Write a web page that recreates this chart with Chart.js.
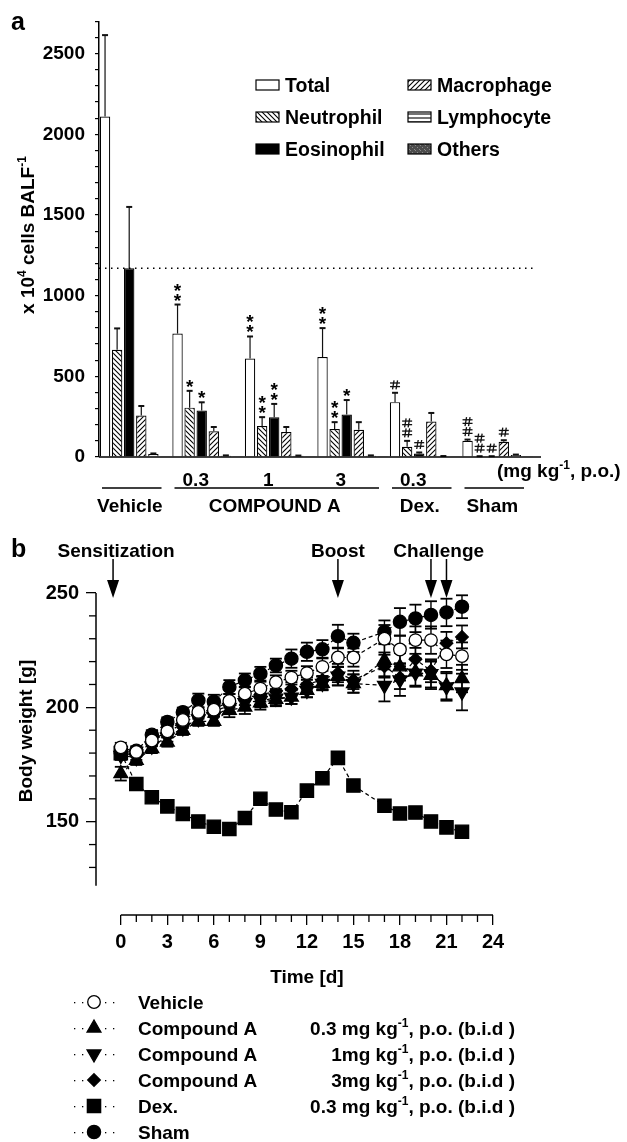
<!DOCTYPE html>
<html>
<head>
<meta charset="utf-8">
<script src="https://cdn.jsdelivr.net/npm/chart.js@4.4.1/dist/chart.umd.min.js"></script>
<style>
html, body { margin: 0; padding: 0; background: #fff; }
#wrap { position: relative; width: 627px; height: 1142px; overflow: hidden; }
canvas { position: absolute; left: 0; }
#cA { top: 0; width: 627px; height: 520px; }
#cB { top: 520px; width: 627px; height: 622px; }
</style>
</head>
<body>
<div id="wrap">
  <canvas id="cA" width="627" height="520"></canvas>
  <canvas id="cB" width="627" height="622"></canvas>
</div>
<script>
// ---------- panel a : BALF cells ----------
var groups = ["Vehicle", "COMPOUND A 0.3", "COMPOUND A 1", "COMPOUND A 3", "Dex. 0.3", "Sham"];
var doseLabels = ["", "0.3", "1", "3", "0.3", ""];
var headNames = ["Vehicle", "COMPOUND A", "Dex.", "Sham"];
var headSpans = [[0, 0], [1, 3], [4, 4], [5, 5]];
var cellTypes = ["Total", "Neutrophil", "Eosinophil", "Macrophage", "Lymphocyte", "Others"];

var total = [2110, 765, 610, 620, 340, 100];
var totalErr = [505, 180, 137, 179, 58, 8];
var neutro = [665, 306, 192, 173, 63, 3];
var neutroErr = [132, 104, 55, 43, 37, 2];
var eosino = [1170, 288, 247, 263, 22, 3];
var eosinoErr = [380, 51, 82, 90, 6, 2];
var macro = [257, 159, 155, 169, 220, 94];
var macroErr = [59, 27, 31, 47, 53, 10];
var lympho = [18, 8, 7, 8, 5, 12];
var lymphoErr = [4, 2, 2, 2, 1, 3];
var others = [1, 1, 1, 1, 1, 1];
var othersErr = [0, 0, 0, 0, 0, 0];

var sigTotal = ["", "**", "**", "**", "#", "##"];
var sigNeutro = ["", "*", "**", "**", "##", "##"];
var sigEosino = ["", "*", "**", "*", "#", "#"];
var sigMacro = ["", "", "", "", "", "#"];
var sigNone = ["", "", "", "", "", ""];

var yTicksA = [0, 500, 1000, 1500, 2000, 2500];

// ---------- panel b : body weight ----------
var days = [0, 1, 2, 3, 4, 5, 6, 7, 8, 9, 10, 11, 12, 13, 14, 15, 17, 18, 19, 20, 21, 22];
var vehicle = [182.5, 180.5, 185.5, 189.5, 194.5, 198, 199, 202.8, 206, 208.2, 211, 213, 215, 217.7, 221.8, 221.8, 230, 225.3, 229.4, 229.4, 223.2, 222.4];
var vehicleErr = [2, 2, 2, 2, 2, 2, 2, 3, 3, 3, 3, 3, 3, 4, 4, 4, 6, 6, 6, 6, 6, 6];
var compA03 = [171, 176.8, 182, 184.8, 189.9, 193.9, 193.9, 198.7, 200.1, 202, 203.5, 204.5, 207.4, 210.5, 213.6, 210.4, 220.6, 217.7, 215.5, 214, 209.5, 212.6];
var compA03Err = [3, 2, 2, 2, 2, 2, 2, 3, 3, 3, 3, 3, 3, 3, 4, 4, 7, 6, 6, 6, 6, 6];
var compA1 = [179, 178, 183, 187, 191, 195, 196, 200, 202, 203, 204, 204.5, 207.4, 210.5, 213.6, 210.4, 209.6, 212, 215, 214.7, 208.9, 206.7];
var compA1Err = [2, 2, 2, 2, 2, 2, 3, 3, 3, 3, 3, 3, 3, 3, 4, 4, 7, 7, 6, 6, 6, 8];
var compA3 = [180, 179, 185, 189, 193, 197, 198, 201, 204, 205.5, 207, 208, 210, 212, 215, 212, 218, 213, 221, 216, 228, 230.8];
var compA3Err = [2, 2, 2, 2, 2, 2, 2, 3, 3, 3, 3, 3, 3, 4, 4, 4, 5, 5, 5, 5, 5, 5];
var dex = [180, 166.5, 160.7, 156.7, 153.4, 150.1, 147.8, 146.8, 151.6, 160, 155.3, 154.1, 163.6, 169, 177.9, 165.8, 157, 153.6, 154, 150.1, 147.5, 145.6];
var dexErr = [2, 1, 1, 1, 1, 1, 1, 1, 1, 1, 1, 1, 1, 1, 1, 1, 1, 1, 1, 1, 1, 1];
var sham = [180, 181, 188, 193.6, 197.9, 203, 202.5, 208.9, 211.8, 214.7, 218.3, 221.3, 224.3, 225.4, 231.1, 228.2, 233, 237.4, 238.9, 240.4, 241.5, 244];
var shamErr = [2, 2, 2, 2, 2, 3, 3, 3, 3, 3, 3, 4, 4, 4, 5, 4, 5, 6, 6, 6, 6, 5];

var seriesNames = ["Vehicle", "Compound A", "Compound A", "Compound A", "Dex.", "Sham"];
var seriesDoses = [null, ["0.3 mg kg", "^-1", ", p.o. (b.i.d )"], ["1mg kg", "^-1", ", p.o. (b.i.d )"],
                   ["3mg kg", "^-1", ", p.o. (b.i.d )"], ["0.3 mg kg", "^-1", ", p.o. (b.i.d )"], null];

var xTicksB = [0, 3, 6, 9, 12, 15, 18, 21, 24];
var yTicksB = [150, 200, 250];
var eventNames = ["Sensitization", "Boost", "Challenge"];
var eventDays = [[-0.5], [14], [20, 21]];

// ---------- helpers ----------
var FONT = '"Liberation Sans", Arial, Helvetica, sans-serif';
function font(sz) { return "bold " + sz + "px " + FONT; }

Chart.defaults.font.family = FONT;
Chart.defaults.font.size = 19;
Chart.defaults.font.weight = "bold";
Chart.defaults.color = "#000";

// text with ^superscript runs
function drawRuns(ctx, runs, x, y, sz, align) {
    var supSz = Math.round(sz * 0.62);
    var w = 0, i, r, sup, t;
    for (i = 0; i < runs.length; i++) {
        sup = runs[i].charAt(0) === "^";
        ctx.font = font(sup ? supSz : sz);
        w += ctx.measureText(sup ? runs[i].slice(1) : runs[i]).width;
    }
    var cx = align === "center" ? x - w / 2 : (align === "right" ? x - w : x);
    ctx.textAlign = "left";
    ctx.textBaseline = "alphabetic";
    for (i = 0; i < runs.length; i++) {
        r = runs[i];
        sup = r.charAt(0) === "^";
        t = sup ? r.slice(1) : r;
        ctx.font = font(sup ? supSz : sz);
        ctx.fillText(t, cx, sup ? y - sz * 0.4 : y);
        cx += ctx.measureText(t).width;
    }
}

function line(ctx, x1, y1, x2, y2) {
    ctx.beginPath();
    ctx.moveTo(x1, y1);
    ctx.lineTo(x2, y2);
    ctx.stroke();
}

function drawHash(ctx, x, cy) {
    ctx.lineWidth = 1.3;
    line(ctx, x - 5, cy - 1.8, x + 5, cy - 1.8);
    line(ctx, x - 5, cy + 1.8, x + 5, cy + 1.8);
    line(ctx, x - 1, cy - 4.5, x - 2.5, cy + 4.5);
    line(ctx, x + 2.5, cy - 4.5, x + 1, cy + 4.5);
}

function drawStar(ctx, x, cy) {
    ctx.font = font(19);
    ctx.textAlign = "center";
    ctx.textBaseline = "alphabetic";
    ctx.fillText("*", x, cy + 10);
}

var ctxA = document.getElementById("cA").getContext("2d");

function makePattern(kind) {
    var c = document.createElement("canvas");
    var s = kind === "horiz" ? 4 : 5;
    c.width = s;
    c.height = s;
    var g = c.getContext("2d");
    g.fillStyle = kind === "others" ? "#4d4d4d" : "#fff";
    g.fillRect(0, 0, s, s);
    g.strokeStyle = "#000";
    g.lineWidth = 1.1;
    if (kind === "back") {
        line(g, 0, 0, s, s); line(g, -1, s - 1, 1, s + 1); line(g, s - 1, -1, s + 1, 1);
    } else if (kind === "fwd") {
        line(g, 0, s, s, 0); line(g, -1, 1, 1, -1); line(g, s - 1, s + 1, s + 1, s - 1);
    } else if (kind === "horiz") {
        line(g, 0, 2, s, 2);
    } else if (kind === "others") {
        g.fillStyle = "#8a8a8a";
        g.fillRect(0, 0, 1, 1);
        g.fillRect(2, 2, 1, 1);
        g.fillRect(4, 4, 1, 1);
    }
    return ctxA.createPattern(c, "repeat");
}

var fills = ["#fff", makePattern("back"), "#000", makePattern("fwd"), makePattern("horiz"), makePattern("others")];
var valuesA = [total, neutro, eosino, macro, lympho, others];
var errA = [totalErr, neutroErr, eosinoErr, macroErr, lymphoErr, othersErr];
var sigA = [sigTotal, sigNeutro, sigEosino, sigMacro, sigNone, sigNone];

var panelA = {
    id: "panelA",
    afterDatasetsDraw: function (chart) {
        var ctx = chart.ctx, ys = chart.scales.y;
        ctx.save();
        ctx.strokeStyle = "#111";
        ctx.fillStyle = "#000";
        chart.data.datasets.forEach(function (ds, di) {
            var meta = chart.getDatasetMeta(di);
            meta.data.forEach(function (bar, i) {
                var e = errA[di][i];
                var top = ys.getPixelForValue(ds.data[i] + e);
                if (e > 0) {
                    ctx.lineWidth = 1.2;
                    line(ctx, bar.x, bar.y, bar.x, top);
                    ctx.lineWidth = 2;
                    line(ctx, bar.x - 3, top, bar.x + 3, top);
                }
                var s = sigA[di][i];
                for (var k = 0; k < s.length; k++) {
                    var cy = top - 8 - k * 10;
                    if (s.charAt(k) === "#") { drawHash(ctx, bar.x, cy); } else { drawStar(ctx, bar.x, cy); }
                }
            });
        });
        ctx.restore();
    },
    afterDraw: function (chart) {
        var ctx = chart.ctx, ys = chart.scales.y, area = chart.chartArea;
        var catW = (area.right - area.left) / groups.length;
        ctx.save();
        ctx.strokeStyle = "#000";
        ctx.fillStyle = "#000";

        // baseline
        ctx.lineWidth = 1.5;
        line(ctx, area.left, ys.getPixelForValue(0), 541, ys.getPixelForValue(0));

        // reference dotted line at vehicle eosinophil level
        ctx.lineWidth = 1.3;
        ctx.setLineDash([1.5, 4.5]);
        line(ctx, area.left, ys.getPixelForValue(eosino[0]), 537, ys.getPixelForValue(eosino[0]));
        ctx.setLineDash([]);

        // legend
        cellTypes.forEach(function (name, i) {
            var col = i < 3 ? 0 : 1;
            var bx = col === 0 ? 256 : 408;
            var cy = [85, 117, 149][i % 3];
            ctx.fillStyle = fills[i];
            ctx.fillRect(bx, cy - 5, 23, 10);
            ctx.lineWidth = 1.2;
            ctx.strokeRect(bx, cy - 5, 23, 10);
            ctx.fillStyle = "#000";
            ctx.font = font(19.5);
            ctx.textAlign = "left";
            ctx.textBaseline = "alphabetic";
            ctx.fillText(name, bx + 29, cy + 7);
        });

        // group headers under the axis
        ctx.lineWidth = 1.5;
        headNames.forEach(function (name, h) {
            var x1 = area.left + headSpans[h][0] * catW + 3;
            var x2 = area.left + (headSpans[h][1] + 1) * catW - 10;
            line(ctx, x1, 488, x2, 488);
            ctx.font = font(19);
            ctx.textAlign = "center";
            ctx.textBaseline = "alphabetic";
            ctx.fillText(name, (x1 + x2) / 2 - 2, 512);
        });

        // unit text
        drawRuns(ctx, ["(mg kg", "^-1", ", p.o.)"], 497, 477, 19, "left");

        // y title
        ctx.save();
        ctx.translate(34, 235);
        ctx.rotate(-Math.PI / 2);
        drawRuns(ctx, ["x 10", "^4", " cells BALF", "^-1"], 0, 0, 19, "center");
        ctx.restore();

        // panel letter
        ctx.font = font(25);
        ctx.textAlign = "left";
        ctx.fillText("a", 11, 30);
        ctx.restore();
    }
};

new Chart(ctxA, {
    type: "bar",
    data: {
        labels: groups,
        datasets: cellTypes.map(function (name, i) {
            return {
                label: name,
                data: valuesA[i],
                backgroundColor: fills[i],
                borderColor: "#000",
                borderWidth: 1.2,
                borderSkipped: "bottom",
                categoryPercentage: 1,
                barPercentage: 0.86
            };
        })
    },
    options: {
        responsive: false,
        animation: false,
        devicePixelRatio: 1,
        layout: { padding: { left: 0, right: 93, top: 16, bottom: 33 } },
        plugins: { legend: { display: false }, tooltip: { enabled: false } },
        scales: {
            x: {
                grid: { display: false },
                border: { display: false },
                ticks: {
                    padding: 4,
                    labelOffset: -12,
                    maxRotation: 0,
                    autoSkip: false,
                    callback: function (v, i) { return doseLabels[i]; }
                },
                afterFit: function (s) { s.height = 30; }
            },
            y: {
                min: 0,
                max: 2700,
                ticks: {
                    stepSize: 100,
                    padding: 10,
                    autoSkip: false,
                    callback: function (v) { return yTicksA.indexOf(v) >= 0 ? v : ""; }
                },
                grid: { drawOnChartArea: false, drawTicks: true, tickLength: 4, color: "#000", lineWidth: 1.2 },
                border: { display: true, color: "#000", width: 1.5 },
                afterFit: function (s) { s.width = 99; }
            }
        }
    },
    plugins: [panelA]
});

// ---------- panel b ----------
var ctxB = document.getElementById("cB").getContext("2d");
var valuesB = [vehicle, compA03, compA1, compA3, dex, sham];
var errB = [vehicleErr, compA03Err, compA1Err, compA3Err, dexErr, shamErr];
var stylesB = ["circle", "triangle", "triangle", "rectRot", "rect", "circle"];
var rotB = [0, 0, 180, 0, 0, 0];
var radiusB = [6.3, 8, 8, 6.3, 9.4, 6.6];
var fillB = ["#fff", "#000", "#000", "#000", "#000", "#000"];

function drawMarker(ctx, style, rot, r, x, y, fill) {
    ctx.beginPath();
    if (style === "circle") {
        ctx.arc(x, y, r, 0, Math.PI * 2);
    } else if (style === "triangle") {
        var a = rot * Math.PI / 180;
        for (var k = 0; k < 3; k++) {
            var px = x + Math.sin(a) * r, py = y - Math.cos(a) * r;
            if (k === 0) { ctx.moveTo(px, py); } else { ctx.lineTo(px, py); }
            a += Math.PI * 2 / 3;
        }
    } else if (style === "rectRot") {
        ctx.moveTo(x, y - r); ctx.lineTo(x + r, y); ctx.lineTo(x, y + r); ctx.lineTo(x - r, y);
    } else {
        var h = r * Math.SQRT1_2;
        ctx.rect(x - h, y - h, 2 * h, 2 * h);
    }
    ctx.closePath();
    ctx.fillStyle = fill;
    ctx.fill();
    ctx.lineWidth = 1.3;
    ctx.strokeStyle = "#000";
    ctx.stroke();
}

var panelB = {
    id: "panelB",
    beforeDatasetsDraw: function (chart) {
        var ctx = chart.ctx, xs = chart.scales.x, ys = chart.scales.y;
        ctx.save();
        ctx.strokeStyle = "#000";
        valuesB.forEach(function (vals, si) {
            vals.forEach(function (v, i) {
                var x = xs.getPixelForValue(days[i]);
                var y1 = ys.getPixelForValue(v + errB[si][i]);
                var y2 = ys.getPixelForValue(v - errB[si][i]);
                ctx.lineWidth = 1.4;
                line(ctx, x, y1, x, y2);
                ctx.lineWidth = 1.8;
                line(ctx, x - 6, y1, x + 6, y1);
                line(ctx, x - 6, y2, x + 6, y2);
            });
        });
        ctx.restore();
    },
    afterDraw: function (chart) {
        var ctx = chart.ctx, xs = chart.scales.x, ys = chart.scales.y, area = chart.chartArea;
        var v, x, y;
        ctx.save();
        ctx.strokeStyle = "#000";
        ctx.fillStyle = "#000";
        ctx.lineWidth = 1.5;

        // detached axis lines
        line(ctx, area.left, ys.getPixelForValue(250), area.left, ys.getPixelForValue(122));
        line(ctx, xs.getPixelForValue(0), area.bottom, xs.getPixelForValue(24), area.bottom);

        // minor ticks
        ctx.lineWidth = 1.3;
        for (v = 0; v <= 24; v++) {
            if (xTicksB.indexOf(v) < 0) {
                x = xs.getPixelForValue(v);
                line(ctx, x, area.bottom, x, area.bottom + 7);
            }
        }
        for (v = 130; v < 250; v += 10) {
            if (yTicksB.indexOf(v) < 0) {
                y = ys.getPixelForValue(v);
                line(ctx, area.left - 7, y, area.left, y);
            }
        }

        // event arrows
        eventNames.forEach(function (name, e) {
            var xsum = 0;
            eventDays[e].forEach(function (d) {
                var ax = xs.getPixelForValue(d);
                xsum += ax;
                ctx.lineWidth = 1.5;
                line(ctx, ax, 39, ax, 62);
                ctx.beginPath();
                ctx.moveTo(ax - 6, 60);
                ctx.lineTo(ax + 6, 60);
                ctx.lineTo(ax, 78);
                ctx.closePath();
                ctx.fill();
            });
            ctx.font = font(19);
            ctx.textAlign = "center";
            ctx.textBaseline = "alphabetic";
            ctx.fillText(name, xsum / eventDays[e].length + (e === 0 ? 3 : 0), 37);
        });

        // axis titles
        ctx.font = font(19);
        ctx.textAlign = "center";
        ctx.fillText("Time [d]", xs.getPixelForValue(12), 463);
        ctx.save();
        ctx.translate(32, 211);
        ctx.rotate(-Math.PI / 2);
        ctx.fillText("Body weight [g]", 0, 0);
        ctx.restore();

        // legend
        var rowsY = [482, 508, 534, 560, 586, 612];
        seriesNames.forEach(function (name, si) {
            var cy = rowsY[si];
            ctx.fillStyle = "#000";
            [-20, -12, 11, 19].forEach(function (dx) { ctx.fillRect(94 + dx, cy, 1.3, 1.3); });
            drawMarker(ctx, stylesB[si], rotB[si], radiusB[si], 94, cy, fillB[si]);
            ctx.fillStyle = "#000";
            ctx.font = font(19);
            ctx.textAlign = "left";
            ctx.textBaseline = "alphabetic";
            ctx.fillText(name, 138, cy + 7);
            if (seriesDoses[si]) { drawRuns(ctx, seriesDoses[si], 515, cy + 7, 19, "right"); }
        });

        // panel letter
        ctx.font = font(25);
        ctx.textAlign = "left";
        ctx.fillText("b", 11, 37);
        ctx.restore();
    }
};

new Chart(ctxB, {
    type: "line",
    data: {
        datasets: valuesB.map(function (vals, si) {
            return {
                label: seriesNames[si],
                data: vals.map(function (v, i) { return { x: days[i], y: v }; }),
                borderColor: "#000",
                borderWidth: 1.2,
                borderDash: [4, 3],
                fill: false,
                tension: 0,
                pointStyle: stylesB[si],
                pointRotation: rotB[si],
                pointRadius: radiusB[si],
                pointBackgroundColor: fillB[si],
                pointBorderColor: "#000",
                pointBorderWidth: 1.3
            };
        })
    },
    options: {
        responsive: false,
        animation: false,
        devicePixelRatio: 1,
        layout: { padding: { left: 0, right: 134, top: 73, bottom: 167 } },
        plugins: { legend: { display: false }, tooltip: { enabled: false } },
        scales: {
            x: {
                type: "linear",
                min: -1.6,
                max: 24,
                afterBuildTicks: function (s) { s.ticks = xTicksB.map(function (v) { return { value: v }; }); },
                ticks: { font: { size: 20 }, padding: 5, maxRotation: 0, autoSkip: false },
                grid: { drawOnChartArea: false, drawTicks: true, tickLength: 10, color: "#000", lineWidth: 1.3 },
                border: { display: false },
                afterFit: function (s) { s.height = 60; }
            },
            y: {
                min: 109.2,
                max: 250,
                afterBuildTicks: function (s) { s.ticks = yTicksB.map(function (v) { return { value: v }; }); },
                ticks: { font: { size: 20 }, padding: 7, autoSkip: false },
                grid: { drawOnChartArea: false, drawTicks: true, tickLength: 10, color: "#000", lineWidth: 1.3 },
                border: { display: false },
                afterFit: function (s) { s.width = 96; }
            }
        }
    },
    plugins: [panelB]
});
</script>
</body>
</html>
